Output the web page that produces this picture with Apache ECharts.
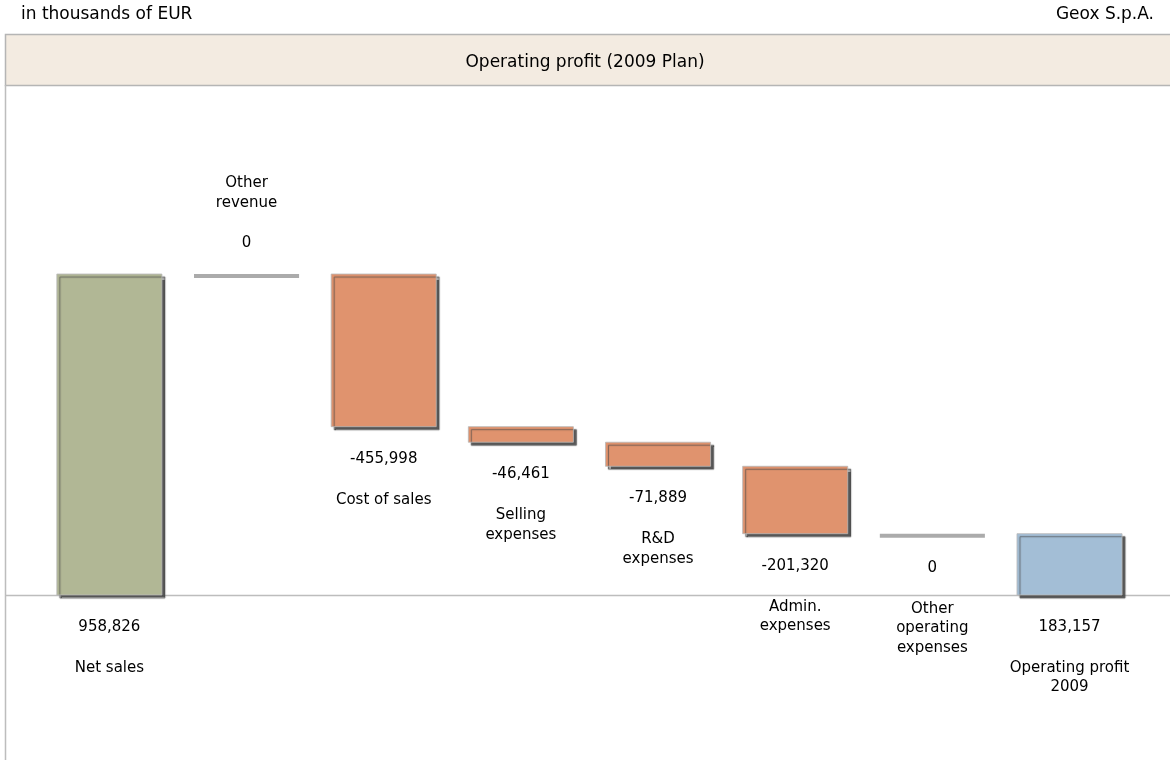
<!DOCTYPE html>
<html>
<head>
<meta charset="utf-8">
<script src="https://cdn.jsdelivr.net/npm/echarts@6/dist/echarts.min.js"></script>
<style>
  html, body { margin: 0; padding: 0; background: #fff; }
  #chart { width: 1170px; height: 760px; }
</style>
</head>
<body>
<div id="chart"></div>
<script>
// data (in thousands of EUR)
var categories = ["Net sales", "Other\nrevenue", "Cost of sales", "Selling\nexpenses",
  "R&D\nexpenses", "Admin.\nexpenses", "Other\noperating\nexpenses", "Operating profit\n2009"];
var amounts = [958826, 0, -455998, -46461, -71889, -201320, 0, 183157];
var kinds = ["total", "plus", "minus", "minus", "minus", "minus", "minus", "total"];
var valueLabels = ["958,826", "0", "-455,998", "-46,461", "-71,889", "-201,320", "0", "183,157"];

var colors = { total0: "#B1B795", minus: "#E0936E", total1: "#A3BED6", zero: "#ABABAB" };
var font = "DejaVu Sans";

// running totals -> [index, from, to]
var rows = [];
var run = 0;
for (var i = 0; i < amounts.length; i++) {
  if (kinds[i] === "total") {
    rows.push([i, 0, amounts[i]]);
    run = amounts[i];
  } else {
    rows.push([i, run, run + amounts[i]]);
    run = run + amounts[i];
  }
}

var chart = echarts.init(document.getElementById("chart"));

function renderItem(params, api) {
  var idx = api.value(0);
  var p0 = api.coord([idx, api.value(1)]);
  var p1 = api.coord([idx, api.value(2)]);
  var bw = api.size([1, 0])[0] * 0.766;
  var x = p0[0] - bw / 2;
  var top = Math.min(p0[1], p1[1]);
  var bottom = Math.max(p0[1], p1[1]);
  var children = [];
  var fill = colors.minus;
  if (kinds[idx] === "total") fill = idx === 0 ? colors.total0 : colors.total1;

  if (bottom - top < 1) {
    children.push({
      type: "rect",
      shape: { x: x, y: top, width: bw, height: 4 },
      style: { fill: colors.zero }
    });
    bottom = top + 2;
  } else {
    children.push({
      type: "rect",
      shape: { x: x, y: top, width: bw, height: bottom - top },
      style: {
        fill: fill, stroke: "#B8B8B8", lineWidth: 0.8,
        shadowColor: "rgba(70,70,70,0.9)", shadowOffsetX: 3, shadowOffsetY: 3, shadowBlur: 1
      }
    });
  }

  var cx = p0[0];
  var nameLines = categories[idx].split("\n").length;
  var vy, ny;
  if (kinds[idx] === "plus") {
    vy = top - 31;
    ny = vy - 40 - (nameLines - 1) * 19.5;
  } else {
    vy = bottom + 32;
    ny = vy + 41;
  }
  children.push({
    type: "text", x: cx, y: vy,
    style: { text: valueLabels[idx], textAlign: "center", textVerticalAlign: "middle",
      align: "center", verticalAlign: "middle", font: "15px " + font, fill: "#000" }
  });
  children.push({
    type: "text", x: cx, y: ny - 9.75,
    style: { text: categories[idx], textAlign: "center", textVerticalAlign: "top",
      align: "center", verticalAlign: "top", font: "15px " + font, fill: "#000", lineHeight: 19.5 }
  });
  return { type: "group", children: children };
}

var headStyle = { fontFamily: font, fontSize: 17, fontWeight: "normal", color: "#000" };

var option = {
  animation: false,
  backgroundColor: "#fff",
  title: [
    { text: "in thousands of EUR", left: 16, top: 1, textStyle: headStyle },
    { text: "Geox S.p.A.", right: 11, top: 1, textStyle: headStyle },
    { text: "Operating profit (2009 Plan)", left: "center", top: 49, textStyle: headStyle }
  ],
  grid: { left: 40.8, right: 31.9, top: 193.3, bottom: 31.1 },
  xAxis: {
    type: "category",
    data: categories,
    show: false
  },
  yAxis: {
    type: "value",
    min: -400000,
    max: 1200000,
    show: false
  },
  series: [{
    type: "custom",
    renderItem: renderItem,
    encode: { x: 0, y: [1, 2] },
    data: rows,
    z: 5
  }]
};
chart.setOption(option);

// frame, title band and zero baseline
var zeroY = Math.round(chart.convertToPixel({ yAxisIndex: 0 }, 0)) + 0.5;
chart.setOption({
  graphic: [
    { type: "rect", z: 0, shape: { x: 5.5, y: 34.5, width: 1200, height: 51 },
      style: { fill: "#F3EBE1", stroke: "#B5B5B5", lineWidth: 1.5 } },
    { type: "line", z: 0, shape: { x1: 5.5, y1: 85, x2: 5.5, y2: 760 },
      style: { stroke: "#BDBDBD", lineWidth: 1.5 } },
    { type: "line", z: 0, shape: { x1: 5, y1: zeroY, x2: 1170, y2: zeroY },
      style: { stroke: "#BDBDBD", lineWidth: 1.5 } }
  ]
});
</script>
</body>
</html>
